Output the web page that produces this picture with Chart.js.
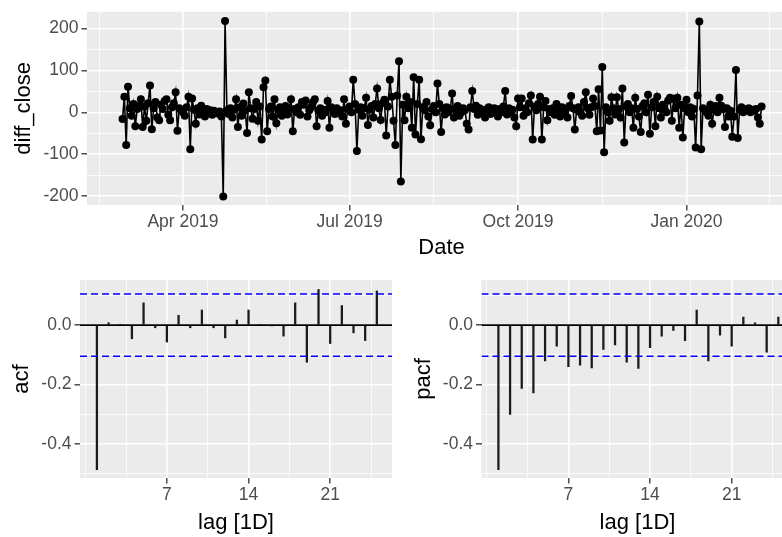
<!DOCTYPE html>
<html>
<head>
<meta charset="utf-8">
<script src="https://cdn.jsdelivr.net/npm/chart.js@4.4.1/dist/chart.umd.min.js"></script>
<style>
    html, body { margin: 0; padding: 0; background: #fff; overflow: hidden; }
    #wrap { position: relative; width: 782px; height: 537px; overflow: hidden; }
    canvas { position: absolute; }
</style>
</head>
<body>
<div id="wrap">
    <canvas id="chartSerie" width="800" height="262" style="left:0;top:0"></canvas>
    <canvas id="chartAcf" width="400" height="275" style="left:0;top:262px"></canvas>
    <canvas id="chartPacf" width="400" height="275" style="left:400px;top:262px"></canvas>
</div>
<script>
// Datos de la serie (un valor por día desde fechaInicio)
const fechaInicio = '2019-02-27';
const diffClose = [
    -16, 37, -78, 61, 10, -8, 20, -33, 8, 15,
    31, -35, 14, -20, 22, 64, -40, 10, 25, -12,
    -19, 18, 8, 27, 31, -6, -19, 12, 22, 48,
    -44, 10, 5, 0, -8, 12, 37, -88, 33, 6,
    -27, 10, -5, 16, 3, -10, 8, 0, 5, -6,
    4, 0, -3, 2, -10, -201, 218, 5, -4, 10,
    -12, 6, 31, -35, 12, -8, 21, 5, -49, 48,
    10, -15, 8, 25, -20, 14, -65, 60, 76, -45,
    8, 14, -10, 31, -26, 6, 12, -8, 0, 15,
    -5, 10, 31, -45, 8, 0, 12, -6, 25, 18,
    28, -10, 5, 12, 24, 31, -33, 4, 10, -8,
    6, 0, 27, -37, 12, 8, -4, 10, 0, 5,
    -10, 31, -27, 8, 14, 0, 78, 20, -92, 6,
    12, -8, 10, 35, -30, 6, 15, -12, 20, 57,
    10, -18, 22, 30, -55, 14, 78, 37, -20, -78,
    40, 122, -165, 18, -19, 37, 10, 25, -37, 84,
    -53, 20, 78, -64, 12, 5, 25, -10, -31, 8,
    15, 0, 69, 20, -47, 10, -5, 12, 0, 8,
    45, -12, 6, 15, -8, 0, 10, 5, -27, -41,
    12, 51, 8, 16, -6, 10, 0, 5, -12, 8,
    12, -4, 0, 10, 6, -10, 8, 0, 14, 51,
    -5, 10, 0, 6, -12, -33, 33, 12, 33, -8,
    10, 0, 22, 40, -65, 14, 5, 20, 37, -65,
    12, 27, -19, 8, 0, 10, -6, 20, 5, -10,
    12, 0, 8, -12, 15, 39, 10, -41, 6, 12,
    0, -8, 25, 48, 10, -6, 12, 33, 15, -45,
    55, -43, 108, -95, 12, 0, -20, 36, 10, -5,
    36, 8, -12, 57, -72, 14, 20, 0, 10, -37,
    35, 8, -10, -47, 15, 22, 0, 42, -51, 12,
    25, -33, 37, 10, -12, 18, 8, 0, 28, 35,
    -20, 32, 10, 35, -37, 18, -60, 10, 30, 0,
    12, -10, 8, -84, 40, 217, -88, 10, 5, 0,
    -8, 18, -27, 6, 15, 0, 35, 16, 8, -35,
    10, -10, 4, -58, -10, 101, -61, 6, 12, 0,
    8, 5, 10, 0, 6, 4, 8, -12, -27, 14
];
const fechasEje = ['2019-04-01', '2019-07-01', '2019-10-01', '2020-01-01'];
const etiquetasFecha = ['Apr 2019', 'Jul 2019', 'Oct 2019', 'Jan 2020'];
const ticksSerie = [-200, -100, 0, 100, 200];

// Autocorrelaciones
const lags = [1, 2, 3, 4, 5, 6, 7, 8, 9, 10, 11, 12, 13, 14, 15, 16, 17, 18, 19, 20, 21, 22, 23, 24, 25];
const acfValues = [-0.487, 0.008, 0.001, -0.046, 0.075, -0.009, -0.057, 0.033, -0.009, 0.051,
    -0.009, -0.043, 0.017, 0.051, 0.002, -0.002, -0.037, 0.075, -0.125, 0.120,
    -0.062, 0.066, -0.026, -0.052, 0.115];
const pacfValues = [-0.487, -0.301, -0.213, -0.228, -0.121, -0.071, -0.140, -0.135, -0.144, -0.082,
    -0.067, -0.125, -0.146, -0.076, -0.037, -0.018, -0.052, 0.051, -0.121, -0.034,
    -0.071, 0.027, 0.008, -0.091, 0.027];
const limiteConfianza = 0.1048;
const ticksLag = [7, 14, 21];
const ticksCf = [-0.4, -0.2, 0.0];

Chart.defaults.font.family = "'Liberation Sans', Arial, sans-serif";

const colores = {
    panel: '#EBEBEB',
    texto: '#4D4D4D',
    marca: '#333333',
    azul: '#0000FF'
};

function indiceDia(fecha) {
    const [a, m, d] = fecha.split('-').map(Number);
    const [a0, m0, d0] = fechaInicio.split('-').map(Number);
    return Math.round((Date.UTC(a, m - 1, d) - Date.UTC(a0, m0 - 1, d0)) / 86400000);
}

// Cortes menores como ggplot: puntos medios entre cortes mayores
function cortesMenores(mayores, min, max) {
    const b = mayores.slice().sort((p, q) => p - q);
    const paso = b[1] - b[0];
    const ext = [b[0] - paso].concat(b, [b[b.length - 1] + paso]);
    const res = [];
    for (let i = 0; i < ext.length - 1; i++) {
        const m = (ext[i] + ext[i + 1]) / 2;
        if (m >= min && m <= max) res.push(m);
    }
    ext.forEach(v => {
        if (v >= min && v <= max && b.indexOf(v) < 0) res.push(v);
    });
    return res;
}

function ejeEscala(mayores, etiquetas, min, max, extra) {
    return Object.assign({
        type: 'linear',
        min: min,
        max: max,
        offset: false,
        border: { display: false },
        grid: {
            offset: false,
            color: '#FFFFFF',
            lineWidth: c => (c.tick && c.tick.menor) ? 0.8 : 1.6,
            tickColor: c => (c.tick && c.tick.menor) ? 'rgba(0,0,0,0)' : colores.marca,
            tickWidth: 1.3,
            tickLength: 5.5,
            drawTicks: true
        },
        ticks: {
            autoSkip: false,
            maxRotation: 0,
            color: colores.texto,
            font: { size: 17.5, lineHeight: 1 },
            callback: function (valor, i, ticks) {
                if (ticks[i].menor) return '';
                const k = mayores.indexOf(valor);
                return k >= 0 ? etiquetas[k] : '';
            }
        },
        afterBuildTicks: function (escala) {
            const lista = mayores.map(v => ({ value: v }));
            cortesMenores(mayores, min, max).forEach(v => lista.push({ value: v, menor: true }));
            escala.ticks = lista.sort((p, q) => p.value - q.value);
        }
    }, extra);
}

function tituloEje(texto, pad) {
    return { display: true, text: texto, color: '#000', font: { size: 22, lineHeight: 1 }, padding: pad };
}

const fondoPanel = {
    id: 'fondoPanel',
    beforeDraw(chart) {
        const { ctx, chartArea: a } = chart;
        ctx.save();
        ctx.fillStyle = colores.panel;
        ctx.fillRect(a.left, a.top, a.width, a.height);
        ctx.restore();
    }
};

// Línea en cero (debajo) y bandas de confianza (encima)
function trazarHorizontal(chart, valor, color, guion) {
    const { ctx, chartArea: a, scales } = chart;
    const y = scales.y.getPixelForValue(valor);
    ctx.save();
    ctx.beginPath();
    ctx.rect(a.left, a.top, a.width, a.height);
    ctx.clip();
    ctx.strokeStyle = color;
    ctx.lineWidth = 1.6;
    ctx.setLineDash(guion);
    ctx.beginPath();
    ctx.moveTo(a.left, y);
    ctx.lineTo(a.right, y);
    ctx.stroke();
    ctx.restore();
}

const lineasRef = {
    id: 'lineasRef',
    beforeDatasetsDraw(chart, args, opts) {
        if (opts.cero) trazarHorizontal(chart, 0, '#000000', []);
    },
    afterDatasetsDraw(chart, args, opts) {
        if (opts.limite) {
            trazarHorizontal(chart, opts.limite, colores.azul, [7, 4]);
            trazarHorizontal(chart, -opts.limite, colores.azul, [7, 4]);
        }
    }
};

const baseOpciones = {
    responsive: false,
    animation: false,
    events: [],
    plugins: { legend: { display: false }, tooltip: { enabled: false } }
};

// Gráfico de la serie diferenciada
const diasEje = fechasEje.map(indiceDia);
new Chart(document.getElementById('chartSerie'), {
    type: 'line',
    data: {
        datasets: [{
            data: diffClose.map((v, i) => ({ x: i, y: v })),
            borderColor: '#000000',
            backgroundColor: '#000000',
            borderWidth: 1.6,
            pointRadius: 4,
            pointBorderWidth: 0,
            tension: 0
        }]
    },
    options: Object.assign({}, baseOpciones, {
        layout: { autoPadding: false, padding: { left: 0, right: 4, top: 8, bottom: 0 } },
        scales: {
            x: ejeEscala(diasEje, etiquetasFecha, -19.4, 367.8, {
                title: tituloEje('Date', { top: 0, bottom: 3 }),
                afterFit: e => { e.height = 57; }
            }),
            y: ejeEscala(ticksSerie, ticksSerie.map(String), -221, 240, {
                title: tituloEje('diff_close', { top: 13, bottom: 0 }),
                afterFit: e => { e.width = 87; }
            })
        }
    }),
    plugins: [fondoPanel]
});

// Gráficos de autocorrelación
function graficoCf(id, valores, titulo, anchoY, derecha) {
    new Chart(document.getElementById(id), {
        type: 'bar',
        data: {
            datasets: [{
                data: lags.map((l, i) => ({ x: l, y: valores[i] })),
                backgroundColor: '#1A1A1A',
                barThickness: 1.6
            }]
        },
        options: Object.assign({}, baseOpciones, {
            layout: { autoPadding: false, padding: { left: 0, right: derecha, top: 18, bottom: 0 } },
            plugins: Object.assign({}, baseOpciones.plugins, {
                lineasRef: { cero: true, limite: limiteConfianza }
            }),
            scales: {
                x: ejeEscala(ticksLag, ticksLag.map(String), -0.45, 26.3, {
                    title: tituloEje('lag [1D]', { top: 0, bottom: 3 }),
                    afterFit: e => { e.height = 59; }
                }),
                y: ejeEscala(ticksCf, ticksCf.map(v => v.toFixed(1)), -0.515, 0.152, {
                    title: tituloEje(titulo, { top: anchoY - 69, bottom: 0 }),
                    afterFit: e => { e.width = anchoY; }
                })
            }
        }),
        plugins: [fondoPanel, lineasRef]
    });
}

graficoCf('chartAcf', acfValues, 'acf', 80, 8);
graficoCf('chartPacf', pacfValues, 'pacf', 81.5, 6.5);
</script>
</body>
</html>
